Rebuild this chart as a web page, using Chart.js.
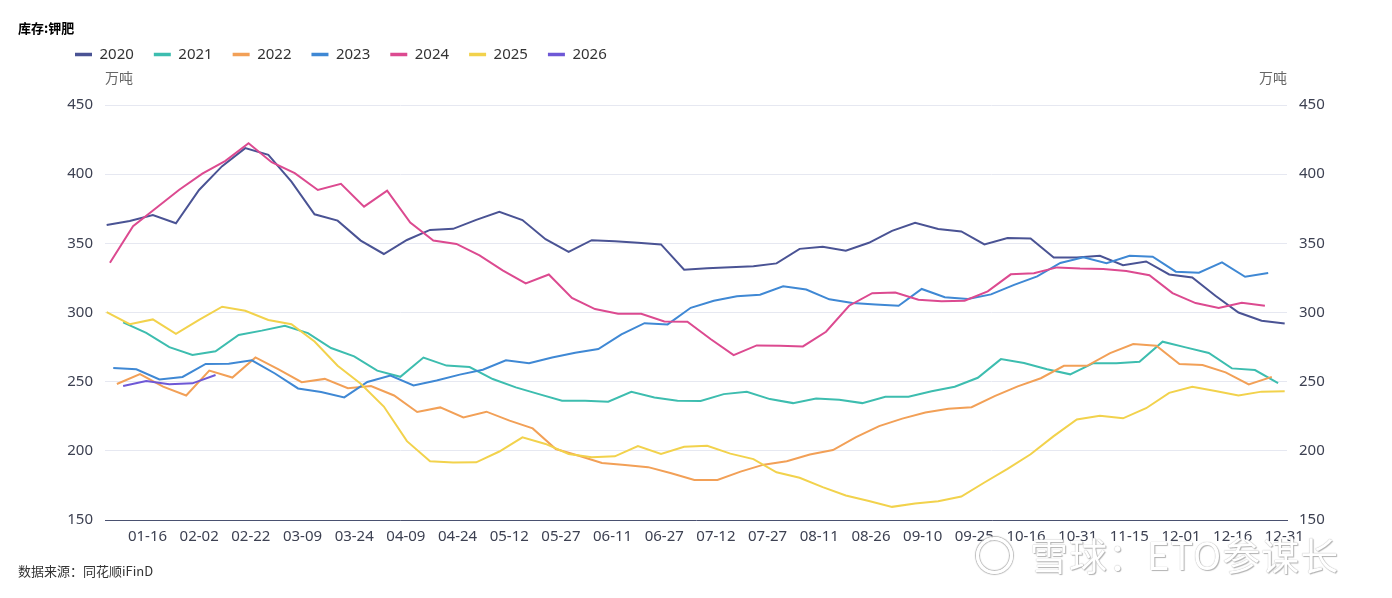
<!DOCTYPE html>
<html>
<head>
<meta charset="utf-8">
<script src="https://cdn.jsdelivr.net/npm/chart.js@4.4.1/dist/chart.umd.min.js"></script>
<style>
  body { margin: 0; background: #fff; }
  #box { position: relative; width: 1392px; height: 598px; overflow: hidden; font-family: "Noto Sans CJK SC", "Noto Sans", sans-serif; }
  #box canvas { position: absolute; left: 0; top: 0; }
  .txt { position: absolute; white-space: nowrap; }
  #title { left: 18px; top: 20px; font-size: 13px; line-height: 16px; font-weight: bold; color: #000; }
  .unit { top: 69px; font-size: 14px; line-height: 16px; color: #666; }
  #src { left: 18px; top: 563px; font-size: 13px; line-height: 16px; color: #333; }
  #wm { left: 1030px; top: 533px; font-size: 38px; line-height: 42px; letter-spacing: 1px; color: #fff;
        text-shadow: 0 0 1px #999, 1px 1px 1px #b5b5b5; }
  #logo { left: 976px; top: 537px; width: 31px; height: 31px; border: 3px solid #fff; border-radius: 50%;
          box-shadow: 0 0 1px 1px #bbb, inset 0 0 1px 1px #bbb; }
</style>
</head>
<body>
<div id="box">
  <canvas id="chart" width="1392" height="598"></canvas>
  <div id="title" class="txt">库存:钾肥</div>
  <div class="txt unit" style="left:105px">万吨</div>
  <div class="txt unit" style="left:1259px">万吨</div>
  <div id="src" class="txt">数据来源：同花顺iFinD</div>
  <div id="logo" class="txt"></div>
  <div id="wm" class="txt">雪球：ETO参谋长</div>
</div>
<script>
// 年份与颜色
var years = ['2020', '2021', '2022', '2023', '2024', '2025', '2026'];
var colors = ['#4a5394', '#3dbdaf', '#f2a057', '#3f88d4', '#dc4a90', '#f2d24c', '#6e58d6'];

// x轴标签
var tickLabels = ['01-16', '02-02', '02-22', '03-09', '03-24', '04-09', '04-24', '05-12', '05-27', '06-11',
  '06-27', '07-12', '07-27', '08-11', '08-26', '09-10', '09-25', '10-16', '10-31', '11-15', '12-01', '12-16', '12-31'];

// 每年第一个周度数据所在位置（轴单位）
var firstDay = [0.5, 5.5, 3.6, 2.5, 1.5, 0.5, 5.5];

// 库存（万吨），周度
var v2020 = [363.3, 366.2, 370.5, 364.5, 388.6, 405.8, 418.8, 414, 394.6, 371, 366.4, 352, 342.3, 352.4, 359.7,
  360.5, 367, 372.8, 366.8, 353, 343.9, 352.3, 351.5, 350.5, 349.2, 330.9, 332, 332.8, 333.5, 335.5, 346, 347.5,
  344.6, 350.4, 359, 364.8, 360.3, 358.6, 349.2, 353.8, 353.5, 339.8, 339.8, 341, 334.2, 336.9, 327.5, 325.3,
  312.1, 300, 294, 292.1];
var v2021 = [292.9, 285.3, 275, 269.3, 272, 283.8, 286.9, 290.4, 285.1, 274.3, 268.3, 258, 253.5, 267.4, 261.6,
  260.6, 251.9, 245.9, 241, 236.2, 236.2, 235.5, 242.7, 238.6, 236.2, 236, 241, 242.7, 237.4, 234.5, 237.9, 236.9,
  234.5, 239.1, 239.1, 243, 246.3, 252.8, 266.3, 263.5, 259, 255.3, 263.4, 263.4, 264.4, 278.9, 274.8, 270.7,
  259.6, 258.4, 249];
var v2022 = [248.3, 255.5, 246.4, 240, 258, 253, 267.5, 258.9, 249.6, 252, 245.3, 246.8, 240, 228.1, 231.4,
  224.2, 228.3, 221.8, 216.2, 201.3, 196.5, 191.2, 189.7, 188.2, 183.8, 179, 178.9, 185, 190, 192.5, 197.4, 200.6,
  209.9, 217.9, 223.3, 227.7, 230.4, 231.5, 239.6, 246.6, 252.5, 261.5, 261.5, 270.6, 277.2, 276, 262.7, 262,
  256.7, 248, 253.5];
var v2023 = [259.8, 259, 251.6, 253.4, 262.8, 262.9, 265.4, 255.9, 245.1, 242.5, 238.6, 249.8, 254.4, 247.3, 250.8,
  255.1, 258.6, 265.4, 263.4, 267.5, 270.9, 273.6, 284.2, 292.3, 291.4, 303.4, 308.5, 311.8, 312.9, 319, 316.6,
  309.5, 306.8, 305.7, 304.9, 317, 311, 309.8, 313.1, 320, 326.1, 335.8, 339.9, 335.6, 341, 340.3, 329.5, 328.8,
  336.2, 325.8, 328.5];
var v2024 = [336, 362.4, 375.6, 388.7, 400.4, 409.6, 422.4, 408.6, 400.7, 388.6, 393, 376.5, 388.1, 365, 352,
  349.6, 341.3, 330.5, 321, 327.5, 310.6, 302.5, 299.1, 299.1, 293.5, 293.3, 280.8, 269.2, 276.2, 276, 275.5, 286.1,
  304.9, 314, 314.5, 309.2, 308.2, 308.5, 315.3, 327.6, 328.4, 332.6, 331.8, 331.4, 330, 327, 314, 306.8, 303.2,
  307, 304.9];
var v2025 = [300.2, 291.5, 295, 284.5, 294.6, 304.2, 301.3, 294.6, 291.5, 279, 261.5, 248.5, 232, 207, 192.5,
  191.6, 191.7, 199.5, 209.8, 205, 197.7, 195.3, 196, 203.5, 197.8, 203, 203.7, 198, 194, 184.5, 180.5, 173.8,
  167.7, 163.8, 159.5, 162, 163.5, 167, 177.1, 187, 197.5, 210.6, 222.7, 225.4, 223.5, 230.8, 241.9, 246.3, 243.2,
  240, 242.8, 243];
var v2026 = [246.9, 250.5, 248.1, 248.8, 254.8];

var allValues = [v2020, v2021, v2022, v2023, v2024, v2025, v2026];

// 轴的范围和刻度位置
var X_MAX = 358.2;
var TICK_START = 12.88;
var TICK_STEP = 15.66;

Chart.defaults.font.family = '"Noto Sans", "Noto Sans CJK SC", sans-serif';
Chart.defaults.font.size = 15;

var datasets = years.map(function (y, i) {
  return {
    label: y,
    data: allValues[i].map(function (v, j) { return { x: firstDay[i] + 7 * j, y: v }; }),
    borderColor: colors[i],
    backgroundColor: colors[i],
    borderWidth: 2,
    pointRadius: 0,
    tension: 0,
    order: years.length - 1 - i,
    yAxisID: 'y'
  };
});

var axisColor = '#3d4152';

new Chart(document.getElementById('chart'), {
  type: 'line',
  data: { datasets: datasets },
  options: {
    responsive: false,
    animation: false,
    layout: { padding: { left: 55, right: 50, top: 27, bottom: 0 } },
    plugins: {
      tooltip: { enabled: false },
      legend: {
        position: 'top',
        align: 'start',
        labels: {
          usePointStyle: true,
          pointStyleWidth: 17,
          padding: 20,
          color: '#333',
          font: { size: 15 },
          generateLabels: function (chart) {
            return chart.data.datasets.map(function (ds, i) {
              return {
                text: ds.label,
                strokeStyle: ds.borderColor,
                fillStyle: ds.borderColor,
                lineWidth: 3.5,
                pointStyle: 'line',
                hidden: !chart.isDatasetVisible(i),
                datasetIndex: i,
                fontColor: '#333'
              };
            });
          }
        }
      }
    },
    scales: {
      x: {
        type: 'linear',
        min: 0,
        max: X_MAX,
        afterBuildTicks: function (s) {
          s.ticks = tickLabels.map(function (t, i) { return { value: TICK_START + TICK_STEP * i }; });
        },
        ticks: {
          autoSkip: false,
          maxRotation: 0,
          padding: 8,
          color: axisColor,
          callback: function (v, i) { return tickLabels[i]; }
        },
        grid: { display: false, drawTicks: false },
        border: { display: true, color: '#4a5170', width: 1 },
        afterFit: function (s) { s.height = 78; }
      },
      xTop: {
        type: 'linear',
        axis: 'x',
        position: 'top',
        ticks: { display: false },
        grid: { display: false, drawTicks: false },
        border: { display: false },
        afterFit: function (s) { s.height = 33; }
      },
      y: {
        position: 'left',
        min: 150,
        max: 450,
        ticks: { stepSize: 50, padding: 12, color: axisColor },
        grid: { color: '#e6e8f1', drawTicks: false },
        border: { display: false },
        afterFit: function (s) { s.width = 50; }
      },
      y1: {
        position: 'right',
        min: 150,
        max: 450,
        ticks: { stepSize: 50, padding: 12, color: axisColor },
        grid: { display: false, drawTicks: false },
        border: { display: false },
        afterFit: function (s) { s.width = 55; }
      }
    }
  }
});
</script>
</body>
</html>
